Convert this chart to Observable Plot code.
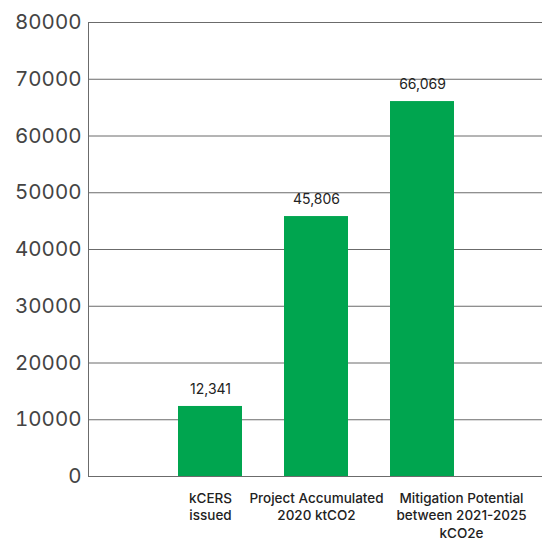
<!DOCTYPE html>
<html>
<head>
<meta charset="utf-8">
<script src="https://cdn.jsdelivr.net/npm/d3@7"></script>
<script src="https://cdn.jsdelivr.net/npm/@observablehq/plot@0.6"></script>
<style>
  body { margin: 0; background: #fff; }
  #chart svg { display: block; }
</style>
</head>
<body>
<div id="chart"></div>
<script>
const categories = ["kCERS\nissued", "Project Accumulated\n2020 ktCO2", "Mitigation Potential\nbetween 2021-2025\nkCO2e"];
const values = [12341, 45806, 66069];
const yTicks = [0, 10000, 20000, 30000, 40000, 50000, 60000, 70000, 80000];

const data = categories.map((c, i) => ({category: c, value: values[i]}));

const axisStyle = {tickSize: 0, tickPadding: 13.5, fontSize: 13.5, fontWeight: 500, color: "#222", lineHeight: 1.32, textAnchor: "middle", label: null, lineAnchor: "top"};

const chart = Plot.plot({
  width: 542,
  height: 539,
  marginTop: 22,
  marginBottom: 63,
  marginLeft: 88,
  marginRight: 0,
  style: {fontFamily: "Inter, sans-serif", background: "#fff"},
  x: {domain: categories, range: [157, 475], paddingInner: 0.4, paddingOuter: 0.2, axis: null},
  y: {domain: [0, 80000], ticks: yTicks, axis: null},
  marks: [
    Plot.ruleY(yTicks, {stroke: "#6b6b6b", strokeWidth: 1, strokeOpacity: 1}),
    Plot.barY(data, {x: "category", y: "value", fill: "#00a54f"}),
    Plot.frame({anchor: "left", stroke: "#6b6b6b"}),
    Plot.text(data, {x: "category", y: "value", text: d => d3.format(",")(d.value), dy: -17, fontSize: 14, fill: "#222"}),
    Plot.axisY({ticks: yTicks, tickSize: 0, tickPadding: 7, fontSize: 20.5, color: "#444", tickFormat: d => String(d), label: null}),
    Plot.axisX({...axisStyle, ticks: categories.slice(0, 2)}),
    Plot.axisX({...axisStyle, ticks: categories.slice(2), dx: 39})
  ]
});
document.getElementById("chart").appendChild(chart);
</script>
</body>
</html>
